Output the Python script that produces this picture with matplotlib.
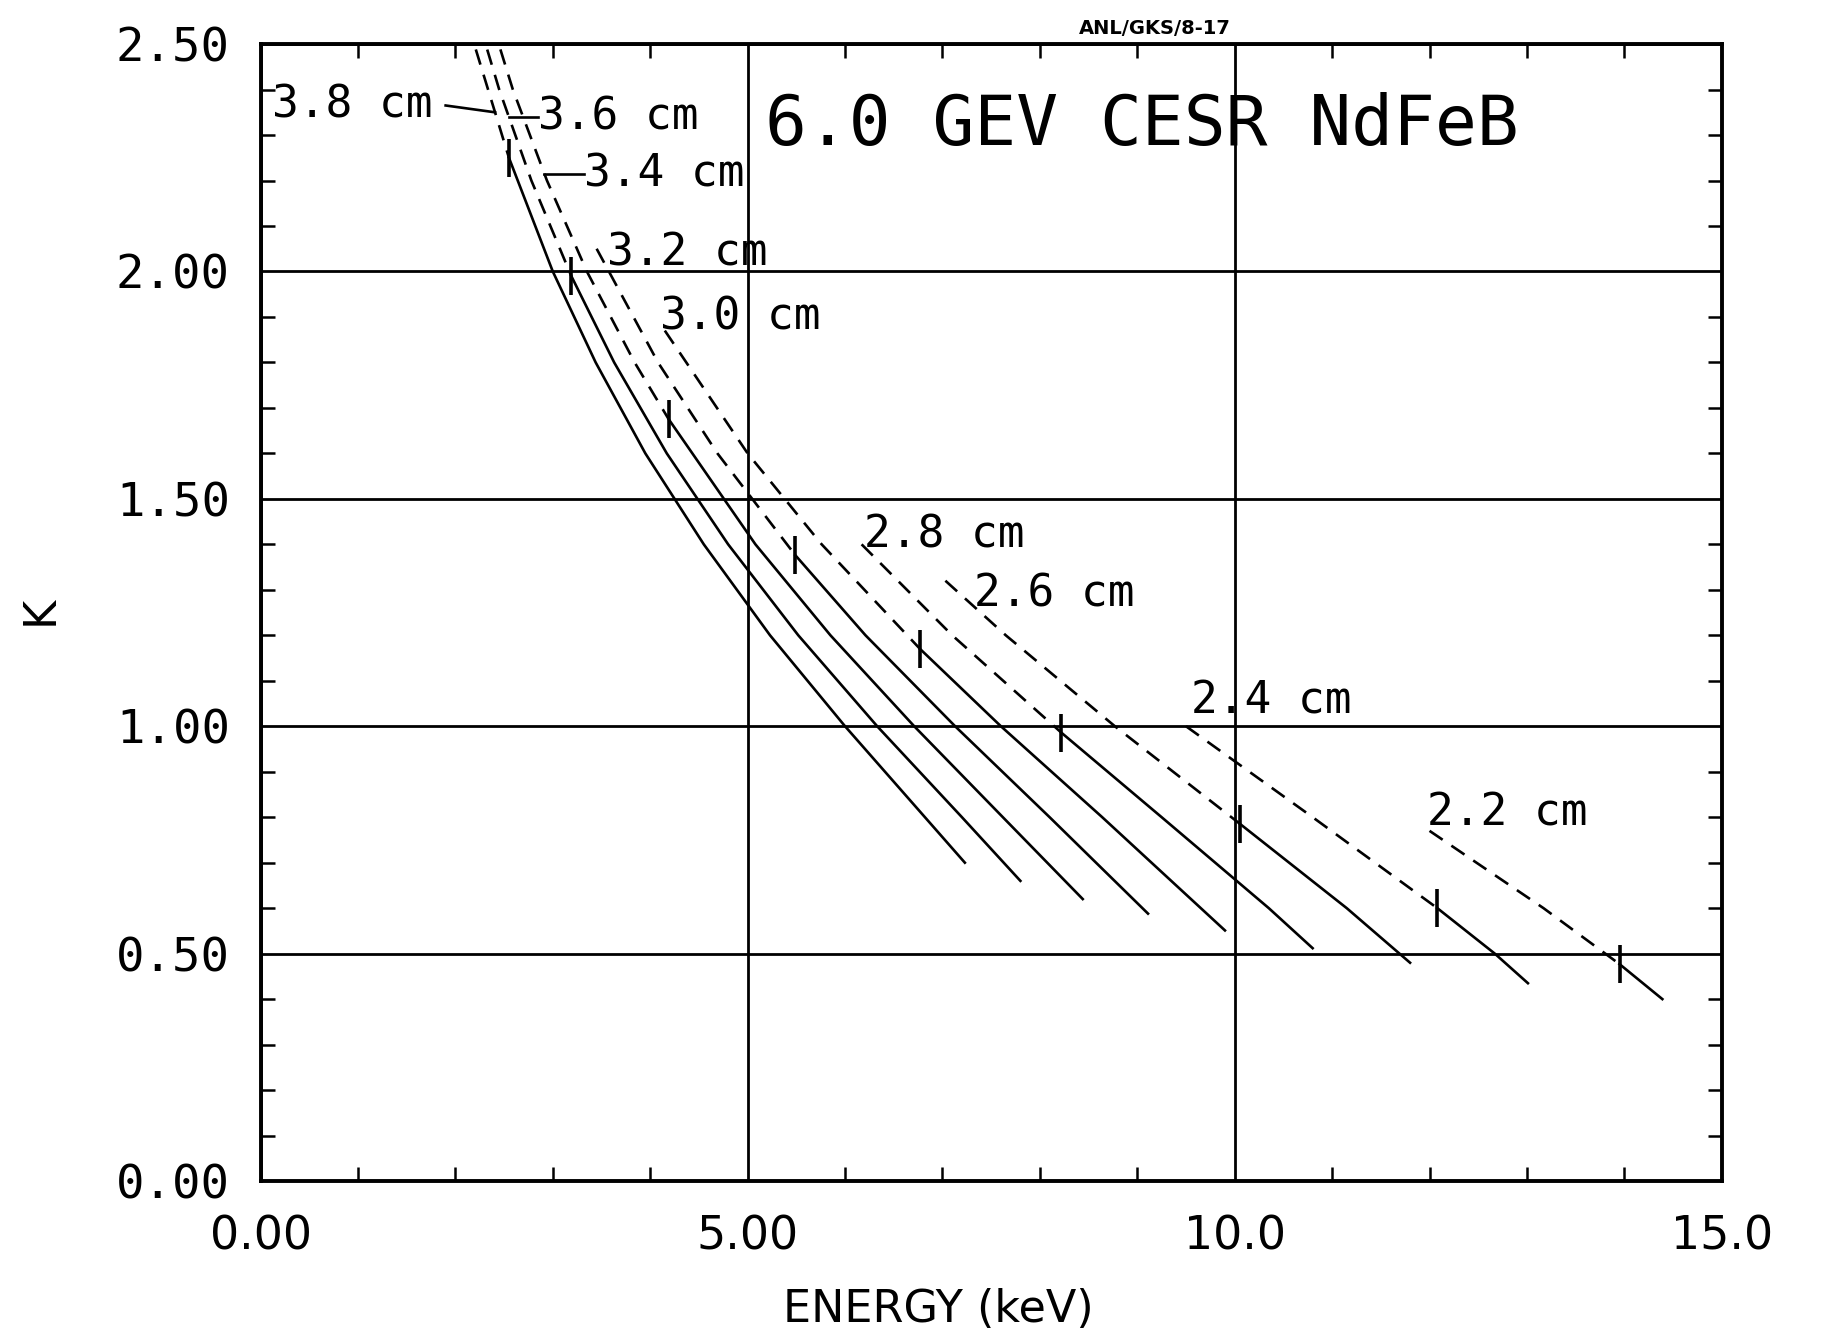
import numpy as np
import matplotlib.pyplot as plt
from matplotlib.ticker import MultipleLocator, FixedLocator, FixedFormatter

# undulator periods (cm), one curve each
periods = [3.8, 3.6, 3.4, 3.2, 3.0, 2.8, 2.6, 2.4, 2.2]

# points: K and first-harmonic energy (keV)
k_pts = [
    [2.60, 2.25, 2.00, 1.80, 1.60, 1.40, 1.20, 1.00, 0.80, 0.70],
    [2.60, 2.40, 2.20, 1.99, 1.80, 1.60, 1.40, 1.20, 1.00, 0.80, 0.66],
    [2.60, 2.40, 2.20, 2.00, 1.80, 1.675, 1.40, 1.20, 1.00, 0.80, 0.62],
    [2.05, 1.80, 1.60, 1.376, 1.20, 1.00, 0.80, 0.588],
    [1.87, 1.60, 1.40, 1.17, 1.00, 0.80, 0.551],
    [1.40, 1.20, 0.986, 0.80, 0.60, 0.512],
    [1.32, 1.20, 1.00, 0.786, 0.60, 0.48],
    [1.00, 0.80, 0.60, 0.50, 0.435],
    [0.77, 0.60, 0.477, 0.40],
]
e_pts = [
    [2.05, 2.55, 3.00, 3.44, 3.95, 4.55, 5.23, 6.00, 6.82, 7.23],
    [2.17, 2.45, 2.78, 3.19, 3.63, 4.17, 4.80, 5.52, 6.33, 7.20, 7.80],
    [2.30, 2.59, 2.94, 3.35, 3.84, 4.19, 5.08, 5.85, 6.71, 7.62, 8.44],
    [3.45, 4.08, 4.69, 5.49, 6.21, 7.13, 8.10, 9.11],
    [4.15, 5.00, 5.76, 6.77, 7.60, 8.64, 9.90],
    [6.17, 7.10, 8.22, 9.25, 10.35, 10.80],
    [7.03, 7.65, 8.77, 10.05, 11.15, 11.80],
    [9.50, 10.80, 12.08, 12.67, 13.01],
    [12.00, 13.17, 13.95, 14.39],
]
# K where each curve goes from dashed to solid (marked with a bar)
k_break = [2.25, 1.99, 1.675, 1.376, 1.17, 0.986, 0.786, 0.60, 0.477]

curve_labels = ["3.8 cm", "3.6 cm", "3.4 cm", "3.2 cm", "3.0 cm",
                "2.8 cm", "2.6 cm", "2.4 cm", "2.2 cm"]

y_ticks = [0.0, 0.5, 1.0, 1.5, 2.0, 2.5]
y_ticklabels = ["0.00", "0.50", "1.00", "1.50", "2.00", "2.50"]
x_ticks = [0.0, 5.0, 10.0, 15.0]
x_ticklabels = ["0.00", "5.00", "10.0", "15.0"]

# label placement (E, K); leaders join the upper three labels to their curves
lab_pos = [(0.12, 2.365), (2.85, 2.34), (3.32, 2.215), (3.56, 2.04), (4.10, 1.90),
           (6.19, 1.42), (7.32, 1.29), (9.55, 1.055), (11.97, 0.81)]
leader_k = [2.35, 2.34, 2.215, None, None, None, None, None, None]
leader_e0 = [1.90, 2.85, 3.32, None, None, None, None, None, None]

MONO = "DejaVu Sans Mono"

fig = plt.figure(figsize=(18.22, 13.36), dpi=100)
ax = fig.add_axes([0.143, 0.116, 0.802, 0.851])

for i, lam in enumerate(periods):
    k = np.array(k_pts[i])
    e = np.array(e_pts[i])
    kb = k_break[i]
    dashed = k >= kb - 1e-9
    solid = k <= kb + 1e-9
    ax.plot(e[dashed], k[dashed], color="black", lw=1.9, dashes=(6, 4))
    ax.plot(e[solid], k[solid], color="black", lw=1.9)
    eb = np.interp(kb, k[::-1], e[::-1])
    ax.plot([eb], [kb], marker="|", ms=28, mew=2.6, color="black")

    tx, ty = lab_pos[i]
    ax.text(tx, ty, curve_labels[i], fontsize=32, family=MONO, va="center", ha="left")
    if leader_k[i] is not None:
        ec = np.interp(leader_k[i], k[::-1], e[::-1])
        ax.plot([leader_e0[i], ec], [ty, leader_k[i]], color="black", lw=1.9)

ax.text(5.18, 2.32, "6.0 GEV CESR NdFeB", fontsize=50, family=MONO, va="center", ha="left")
ax.text(8.40, 2.535, "ANL/GKS/8-17", fontsize=14, weight="bold", va="center",
        ha="left", clip_on=False)

ax.set_xlim(0, 15)
ax.set_ylim(0, 2.5)

ax.xaxis.set_major_locator(FixedLocator(x_ticks))
ax.xaxis.set_major_formatter(FixedFormatter(x_ticklabels))
ax.yaxis.set_major_locator(FixedLocator(y_ticks))
ax.yaxis.set_major_formatter(FixedFormatter(y_ticklabels))
ax.xaxis.set_minor_locator(MultipleLocator(1.0))
ax.yaxis.set_minor_locator(MultipleLocator(0.1))

ax.grid(True, which="major", color="black", lw=2.0)
ax.tick_params(which="major", length=0, pad=24)
ax.tick_params(which="minor", direction="in", length=10, width=1.8,
               top=True, right=True)
ax.tick_params(axis="y", which="major", pad=22)
for lab in ax.get_yticklabels():
    lab.set_family(MONO)
    lab.set_fontsize(34)
for lab in ax.get_xticklabels():
    lab.set_family("DejaVu Sans")
    lab.set_fontsize(33)
for s in ax.spines.values():
    s.set_linewidth(2.8)

fig.text(0.515, 0.020, "ENERGY (keV)", fontsize=32, ha="center", va="center")
fig.text(0.022, 0.543, "K", fontsize=32, rotation=90, ha="center", va="center")

fig.savefig("out.png", dpi=100)
